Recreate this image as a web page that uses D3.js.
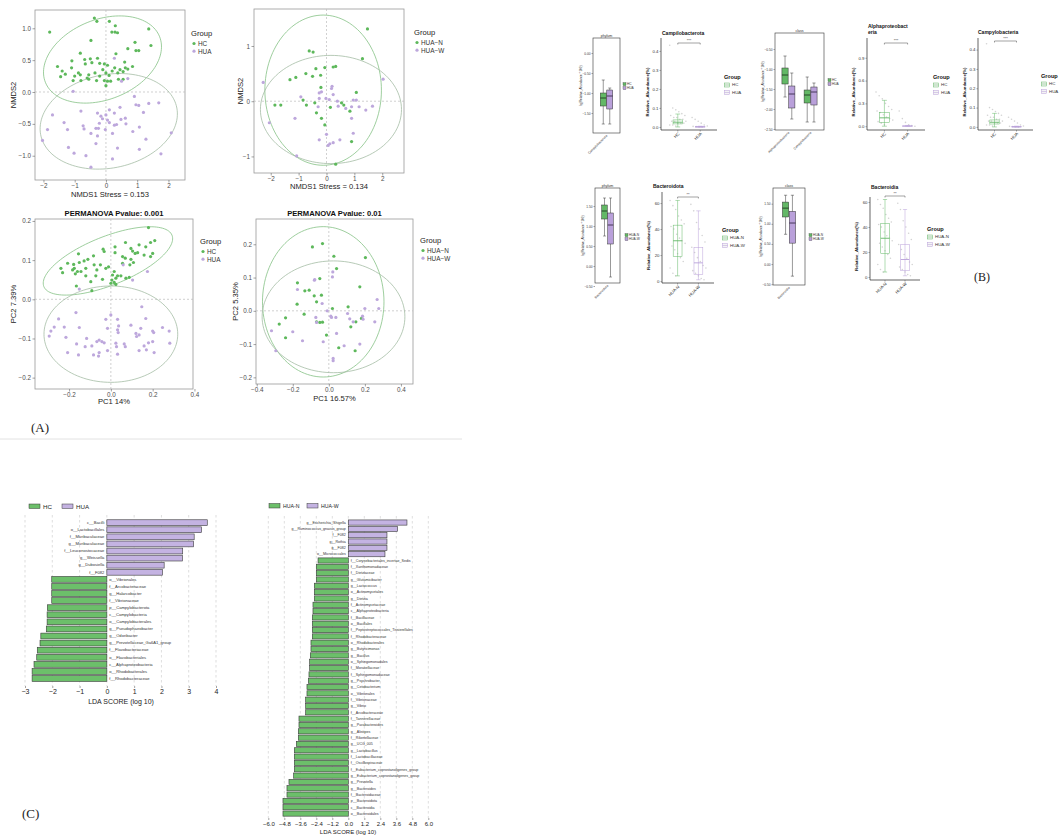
<!DOCTYPE html>
<html lang="en">
<head>
<meta charset="UTF-8">
<title>Gut microbiota: ordination, taxa and LEfSe</title>
<style>
  body { margin: 0; background: #fff; }
  svg text { font-family: "Liberation Sans", Arial, sans-serif; }
  svg text.serif { font-family: "Liberation Serif", "Times New Roman", serif; }
</style>
</head>
<body>
<svg id="fig" width="1059" height="835"></svg>
<script src="https://cdnjs.cloudflare.com/ajax/libs/d3/7.8.5/d3.min.js"></script>
<script>
// ---------- panel A : ordination scores ----------
const nmdsHC = [[-1.80,0.94],[-0.37,1.16],[-0.29,1.11],[0.11,1.11],[0.30,1.04],[0.19,0.94],[0.29,0.94],[0.37,0.93],[1.37,0.99],[-0.48,0.81],[1.44,0.73],[0.93,0.78],[0.96,0.65],[1.05,0.65],[0.70,0.68],[-0.82,0.61],[0.32,0.60],[-1.09,0.49],[-0.68,0.51],[-0.50,0.52],[-0.27,0.53],[-0.66,0.44],[-0.45,0.46],[-0.05,0.44],[0.05,0.42],[-0.20,0.45],[0.60,0.47],[0.85,0.40],[-1.55,0.40],[-1.40,0.33],[-1.30,0.28],[-1.10,0.38],[-1.00,0.25],[-0.88,0.30],[-0.82,0.27],[-0.60,0.22],[-0.55,0.27],[-0.35,0.30],[-0.20,0.25],[-0.10,0.35],[0.00,0.30],[0.20,0.33],[0.28,0.38],[0.38,0.30],[0.45,0.35],[0.55,0.32],[0.62,0.38],[0.70,0.36],[-1.05,0.18],[-0.80,0.18],[-0.55,0.20],[-0.30,0.18],[-0.05,0.18],[0.05,0.17],[0.15,0.17],[0.40,0.20],[0.00,0.10],[0.55,0.20],[-1.45,0.24],[0.10,0.26]];
const nmdsHUA = [[-1.05,0.01],[0.50,0.17],[0.70,0.21],[0.27,0.53],[0.91,-0.07],[0.96,-0.20],[1.05,-0.21],[1.37,-0.18],[1.69,-0.17],[1.20,-0.32],[0.45,-0.24],[0.27,-0.33],[-1.71,-0.36],[-1.34,-0.48],[-1.87,-0.59],[-2.03,-0.76],[-1.23,-0.59],[-0.80,-0.30],[-0.73,-0.53],[-0.70,-0.58],[-0.48,-0.65],[-0.32,-0.57],[-0.24,-0.57],[-0.27,-0.69],[-0.02,-0.59],[0.21,-0.65],[0.27,-0.52],[0.34,-0.51],[0.64,-0.50],[0.62,-0.41],[1.07,-0.55],[0.86,-0.62],[1.28,-0.74],[2.09,-0.64],[-1.20,-0.87],[-1.02,-0.96],[-0.64,-1.00],[-0.32,-0.81],[0.37,-0.88],[0.21,-1.05],[-0.48,-1.18],[1.07,-0.90],[1.76,-0.97],[-0.27,-0.33],[-0.16,-0.38],[-0.11,-0.42],[0.00,-0.36],[0.05,-0.44],[-0.21,-0.49],[0.11,-0.48],[0.48,-0.43],[0.11,-0.28]];
const nmdsN = [[1.47,1.31],[1.29,0.77],[-0.62,0.91],[-0.48,0.89],[0.24,0.62],[0.33,0.63],[-0.06,0.61],[-0.38,0.59],[-0.74,0.50],[-0.50,0.45],[-0.21,0.47],[-1.10,0.43],[-1.31,0.39],[-0.20,0.25],[1.07,0.16],[-0.84,0.02],[-1.85,-0.07],[-1.64,-0.07],[-0.72,-0.07],[-0.42,-0.03],[0.14,-0.11],[0.54,-0.03],[0.62,-0.07],[0.84,-0.18],[-0.36,-0.21],[-0.18,-0.31],[-0.06,-0.43],[0.90,-0.73],[0.33,-1.14]];
const nmdsW = [[-2.27,0.34],[-2.05,-0.39],[-1.07,-0.99],[-1.13,-0.31],[-0.92,0.08],[-0.26,0.15],[-0.18,0.17],[-0.26,0.05],[0.20,0.27],[0.18,0.23],[0.24,0.12],[-0.02,0.05],[0.10,0.03],[0.39,0.00],[0.42,-0.09],[0.69,-0.13],[0.90,-0.10],[0.96,0.02],[1.07,0.02],[1.17,-0.10],[1.41,-0.16],[1.65,-0.09],[2.03,0.40],[0.90,-0.31],[-0.30,-0.10],[0.00,-0.60],[0.96,-0.58],[-0.26,-0.70],[0.12,-0.77],[0.06,-0.80],[0.24,-0.75],[0.48,-0.70]];
const pcoaHC = [[0.18,0.183],[0.21,0.15],[0.19,0.145],[0.07,0.145],[0.135,0.139],[0.02,0.134],[0.167,0.134],[0.096,0.130],[0.104,0.123],[-0.155,0.116],[-0.037,0.128],[-0.032,0.122],[0.116,0.117],[0.128,0.119],[0.159,0.113],[0.19,0.109],[0.20,0.117],[0.02,0.119],[0.056,0.109],[-0.083,0.111],[-0.11,0.102],[-0.128,0.098],[-0.151,0.094],[-0.178,0.089],[-0.239,0.079],[-0.231,0.068],[-0.183,0.075],[-0.175,0.079],[-0.207,0.092],[-0.16,0.071],[-0.143,0.071],[-0.12,0.079],[-0.08,0.088],[-0.067,0.075],[-0.05,0.088],[-0.024,0.079],[-0.011,0.083],[0.016,0.071],[0.008,0.062],[0.024,0.054],[0.056,0.092],[0.069,0.105],[0.096,0.102],[0.091,0.088],[0.108,0.094],[0.048,0.06],[0.072,0.054],[0.088,0.056],[0.005,0.049],[0.016,0.043],[0.0,0.041],[0.024,0.038],[-0.04,0.051],[-0.096,0.045],[-0.165,0.034],[-0.091,0.022],[-0.12,0.06],[-0.17,0.065],[-0.072,0.06],[0.032,0.06]];
const pcoaHUA = [[0.059,0.088],[0.175,0.071],[0.104,0.049],[-0.151,0.026],[0.148,-0.019],[-0.25,-0.05],[-0.223,-0.071],[-0.167,-0.034],[-0.287,-0.081],[-0.271,-0.071],[-0.215,-0.097],[-0.151,-0.072],[-0.116,-0.10],[-0.091,-0.119],[-0.067,-0.108],[-0.056,-0.104],[-0.043,-0.108],[-0.032,-0.111],[-0.024,-0.051],[-0.016,-0.074],[0.032,-0.051],[0.037,-0.068],[0.032,-0.078],[0.035,-0.085],[0.024,-0.112],[0.027,-0.121],[0.0,-0.04],[0.096,-0.066],[0.12,-0.087],[0.123,-0.095],[0.135,-0.091],[0.167,-0.049],[0.143,-0.074],[0.20,-0.081],[0.205,-0.085],[0.247,-0.072],[0.279,-0.081],[0.282,-0.112],[0.20,-0.108],[0.159,-0.119],[0.18,-0.111],[0.135,-0.131],[0.17,-0.129],[0.207,-0.136],[-0.164,-0.114],[-0.207,-0.136],[-0.155,-0.142],[-0.083,-0.142],[-0.059,-0.145],[-0.056,-0.136],[-0.016,-0.131],[0.032,-0.14],[0.064,-0.114],[0.069,-0.121],[-0.123,-0.121],[-0.295,-0.094]];
const pcoaN = [[-0.091,0.192],[-0.035,0.202],[0.028,0.164],[0.203,0.160],[0.043,0.127],[-0.174,0.084],[-0.05,0.097],[-0.109,0.062],[-0.133,0.06],[-0.081,0.045],[-0.041,0.047],[-0.068,0.027],[-0.176,0.02],[0.172,0.072],[0.02,0.007],[0.107,0.012],[-0.24,-0.021],[-0.137,-0.01],[-0.275,-0.04],[-0.068,-0.033],[-0.05,-0.035],[-0.035,-0.034],[0.122,-0.048],[0.15,-0.033],[0.181,-0.023],[-0.013,-0.073],[-0.24,-0.081],[0.055,-0.111],[0.146,-0.12]];
const pcoaW = [[0.022,0.117],[0.02,0.102],[-0.078,0.094],[-0.08,0.092],[-0.174,0.064],[-0.037,0.022],[-0.009,0.0],[0.011,-0.016],[0.015,-0.02],[0.039,-0.02],[-0.072,-0.02],[-0.068,-0.035],[0.104,-0.008],[0.116,-0.024],[0.135,-0.033],[0.187,-0.016],[0.19,-0.025],[0.20,0.007],[0.255,-0.033],[0.268,0.034],[0.277,0.007],[0.043,-0.068],[-0.031,-0.093],[-0.146,-0.09],[-0.20,-0.063],[-0.318,-0.06],[-0.294,-0.12],[0.085,-0.105],[0.172,-0.10],[0.024,-0.143],[0.024,-0.15]];
// confidence ellipses: centre x, centre y, semi-axis a, semi-axis b, angle
const ellNmds1 = [[-0.11,0.51,1.9,0.65,0.12],[0.09,-0.46,2.2,0.74,0.06]];
const ellNmds2 = [[-0.12,0.20,2.09,1.36,0],[0.16,-0.15,2.53,0.98,0]];
const ellPcoa1 = [[-0.014,0.098,0.315,0.065,0.19],[0.0,-0.089,0.32,0.123,0]];
const ellPcoa2 = [[-0.031,0.027,0.337,0.226,0],[0.026,-0.018,0.396,0.168,0]];

// ---------- panel B : box statistics [min, q1, median, q3, max] ----------
const phylumHC = [[-1.775,-1.325,-1.125,-1.0,-0.675]];
const phylumHUA = [[-1.775,-1.4,-1.075,-0.925,-0.875]];
const classHC = [[-1.7,-1.375,-1.15,-0.975,-0.675],[-2.325,-1.85,-1.65,-1.525,-1.2]];
const classHUA = [[-2.25,-1.975,-1.625,-1.425,-1.1],[-2.325,-1.9,-1.575,-1.45,-1.35]];
const phylumN = [[0.75,1.175,1.375,1.525,1.7]];
const phylumW = [[-0.275,0.55,1.025,1.325,1.7]];
const classN = [[0.74,1.17,1.39,1.54,1.71]];
const classW = [[-0.3,0.52,1.02,1.31,1.71]];
const campyloHC = [0,0.016,0.025,0.037,0.068];
const campyloHUA = [0,0,0.001,0.002,0.004];
const alphaHC = [0,0.05,0.11,0.18,0.34];
const alphaHUA = [0,0,0.002,0.004,0.01];
const campyClHC = [0,0.015,0.024,0.036,0.07];
const campyClHUA = [0,0,0.001,0.002,0.004];
const bactN = [4,19,31,43,62];
const bactW = [1,5,14,26,54];
const campyloJitHC = [0.43,0.10,0.09,0.08,0.07,0.06,0.06,0.05,0.05,0.04,0.04,0.03,0.03,0.03,0.02,0.02,0.02,0.01,0.01,0.005];
const campyloJitHUA = [0.05,0.04,0.03,0.02,0.01,0.005,0.003,0.002,0.001,0];
const alphaJitHC = [0.45,0.40,0.36,0.30,0.26,0.22,0.20,0.18,0.15,0.12,0.10,0.08,0.06,0.04,0.02];
const alphaJitHUA = [0.20,0.10,0.05,0.02,0.01,0];
const bactJitN = [62,58,55,50,47,44,42,40,36,33,31,29,27,24,21,18,15,10,6,4];
const bactJitW = [59,54,45,40,35,30,26,22,18,15,12,10,8,6,4,2,1];

// ---------- panel C : LDA scores ----------
const ldaLeftNames = ["c__Bacilli","o__Lactobacillales","f__Muribaculaceae","g__Muribaculaceae","f__Leuconostocaceae","g__Weissella","g__Dubosiella","f__F082","o__Vibrionales","f__Arcobacteraceae","g__Halarcobacter","f__Vibrionaceae","p__Campylobacterota","c__Campylobacteria","o__Campylobacterales","g__Pseudophaeobacter","g__Odoribacter","g__Prevotellaceae_Ga6A1_group","f__Flavobacteriaceae","o__Flavobacteriales","c__Alphaproteobacteria","o__Rhodobacterales","f__Rhodobacteraceae"];
const ldaLeftScores = [3.68,3.47,3.2,3.18,2.78,2.77,2.1,2.04,-2.02,-2.02,-2.02,-2.02,-2.18,-2.19,-2.19,-2.22,-2.42,-2.45,-2.55,-2.57,-2.67,-2.74,-2.74];
const ldaRightNames = ["g__Escherichia_Shigella","g__Ruminococcus_gnavus_group","f__F082","g__Rothia","g__F082","o__Micrococcales","f__Corynebacteriales_incertae_Sedis","f__Xanthomonadaceae","f__Dietziaceae","g__Glutamicibacter","g__Lactococcus","o__Actinomycetales","g__Dietzia","f__Actinomycetaceae","c__Alphaproteobacteria","f__Bacillaceae","o__Bacillales","f__Peptostreptococcales_Tissierellales","f__Rhodobacteraceae","o__Rhodobacterales","g__Butyricimonas","g__Bacillus","o__Sphingomonadales","f__Moraxellaceae","f__Sphingomonadaceae","g__Psychrobacter","g__Cetobacterium","o__Vibrionales","f__Vibrionaceae","g__Vibrio","f__Arcobacteraceae","f__Tannerellaceae","g__Parabacteroides","g__Alistipes","f__Rikenellaceae","g__UCG_005","g__Lactobacillus","f__Lactobacillaceae","f__Oscillospiraceae","f__Eubacterium_coprostanoligenes_group","g__Eubacterium_coprostanoligenes_group","g__Prevotella","g__Bacteroides","f__Bacteroidaceae","p__Bacteroidota","c__Bacteroidia","o__Bacteroidales"];
const ldaRightScores = [4.4,3.7,2.9,2.9,2.9,2.75,-2.27,-2.4,-2.4,-2.4,-2.55,-2.55,-2.55,-2.65,-2.65,-2.7,-2.7,-2.7,-2.7,-2.8,-2.8,-2.85,-2.9,-2.9,-2.95,-3.0,-3.1,-3.1,-3.2,-3.2,-3.2,-3.7,-3.7,-3.75,-3.75,-3.9,-4.05,-4.05,-4.05,-4.05,-4.1,-4.45,-4.6,-4.6,-4.9,-4.9,-4.9];

const GREEN = "#5db85b", PURPLE = "#bda7dc";
const BOX_GREEN = "#63b866", BOX_PURPLE = "#b9a0da";
const svg = d3.select("#fig");

function styleAxis(a, size, color) {
  a.select(".domain").remove();
  a.selectAll("line").attr("stroke", "#666").attr("stroke-width", 0.6);
  a.selectAll("text").attr("font-size", size).attr("fill", color || "#4d4d4d");
}

// ordination scatter with ellipses
function scatterPanel(p) {
  const [bx0, by0, bx1, by1] = p.box;
  const x = d3.scaleLinear().domain(p.xDomain).range([bx0, bx1]);
  const y = d3.scaleLinear().domain(p.yDomain).range([by1, by0]);
  const g = svg.append("g");
  g.append("rect").attr("x", bx0).attr("y", by0).attr("width", bx1 - bx0).attr("height", by1 - by0)
    .attr("fill", "#fff").attr("stroke", "#9a9a9a").attr("stroke-width", 0.8);
  g.append("line").attr("x1", x(0)).attr("x2", x(0)).attr("y1", by0).attr("y2", by1)
    .attr("stroke", "#bbb").attr("stroke-width", 0.7).attr("stroke-dasharray", "2,2");
  g.append("line").attr("x1", bx0).attr("x2", bx1).attr("y1", y(0)).attr("y2", y(0))
    .attr("stroke", "#bbb").attr("stroke-width", 0.7).attr("stroke-dasharray", "2,2");
  const ellColors = ["#85c185", "#a5bca5"];
  p.ellipses.forEach((e, k) => {
    const [cx, cy, a, b, phi] = e;
    const pts = d3.range(0, 121).map(i => {
      const t = i / 120 * 2 * Math.PI;
      return [x(cx + a * Math.cos(t) * Math.cos(phi) - b * Math.sin(t) * Math.sin(phi)),
              y(cy + a * Math.cos(t) * Math.sin(phi) + b * Math.sin(t) * Math.cos(phi))];
    });
    g.append("path").attr("d", d3.line()(pts)).attr("fill", "none")
      .attr("stroke", ellColors[k]).attr("stroke-width", 0.8);
  });
  [[p.g1, GREEN], [p.g2, PURPLE]].forEach(([pts, col]) => {
    g.selectAll(null).data(pts).join("circle")
      .attr("cx", d => x(d[0])).attr("cy", d => y(d[1])).attr("r", 1.6).attr("fill", col);
  });
  const ax = g.append("g").attr("transform", `translate(0,${by1})`)
    .call(d3.axisBottom(x).tickValues(p.xTicks).tickFormat(p.xFmt).tickSize(2.5).tickPadding(1.5));
  const ay = g.append("g").attr("transform", `translate(${bx0},0)`)
    .call(d3.axisLeft(y).tickValues(p.yTicks).tickFormat(p.yFmt).tickSize(2.5).tickPadding(1.5));
  styleAxis(ax, 6.3); styleAxis(ay, 6.3);
  g.append("text").attr("x", (bx0 + bx1) / 2).attr("y", p.xLabelY).attr("text-anchor", "middle")
    .attr("font-size", 7.6).attr("fill", "#222").text(p.xLabel);
  g.append("text").attr("transform", `translate(${p.yLabelX},${(by0 + by1) / 2}) rotate(-90)`)
    .attr("text-anchor", "middle").attr("font-size", 7.6).attr("fill", "#222").text(p.yLabel);
  if (p.title) {
    g.append("text").attr("x", (bx0 + bx1) / 2).attr("y", p.titleY).attr("text-anchor", "middle")
      .attr("font-size", 7.6).attr("font-weight", "bold").attr("fill", "#111").text(p.title);
  }
  const [lx, ly] = p.legend;
  g.append("text").attr("x", lx).attr("y", ly).attr("font-size", 7.6).attr("fill", "#222").text("Group");
  p.groups.forEach((name, i) => {
    g.append("circle").attr("cx", lx + 3).attr("cy", ly + 7.5 + i * 7.7).attr("r", 1.6)
      .attr("fill", i === 0 ? GREEN : PURPLE);
    g.append("text").attr("x", lx + 7).attr("y", ly + 10 + i * 7.7).attr("font-size", 6.4)
      .attr("fill", "#333").text(name);
  });
}

scatterPanel({ box: [35, 10, 185, 180], xDomain: [-2.27, 2.53], yDomain: [-1.381, 1.287],
  xTicks: [-2, -1, 0, 1, 2], yTicks: [-1, -0.5, 0, 0.5, 1], xFmt: d3.format("d"), yFmt: d3.format(".1f"),
  g1: nmdsHC, g2: nmdsHUA, ellipses: ellNmds1, xLabel: "NMDS1  Stress = 0.153", xLabelY: 197,
  yLabel: "NMDS2", yLabelX: 16, legend: [191, 36], groups: ["HC", "HUA"] });
scatterPanel({ box: [254, 9, 404, 173], xDomain: [-2.6, 2.78], yDomain: [-1.30, 1.67],
  xTicks: [-2, -1, 0, 1, 2], yTicks: [-1, 0, 1], xFmt: d3.format("d"), yFmt: d3.format("d"),
  g1: nmdsN, g2: nmdsW, ellipses: ellNmds2, xLabel: "NMDS1  Stress = 0.134", xLabelY: 189,
  yLabel: "NMDS2", yLabelX: 243, legend: [414, 35], groups: ["HUA\u2212N", "HUA\u2212W"] });
scatterPanel({ box: [35, 219, 193, 389], xDomain: [-0.363, 0.393], yDomain: [-0.229, 0.205],
  xTicks: [-0.2, 0, 0.2, 0.4], yTicks: [-0.2, -0.1, 0, 0.1, 0.2], xFmt: d3.format(".1f"), yFmt: d3.format(".1f"),
  g1: pcoaHC, g2: pcoaHUA, ellipses: ellPcoa1, xLabel: "PC1 14%", xLabelY: 404,
  yLabel: "PC2 7.39%", yLabelX: 16, legend: [200, 244], groups: ["HC", "HUA"],
  title: "PERMANOVA Pvalue: 0.001", titleY: 216 });
scatterPanel({ box: [256, 219, 413, 384], xDomain: [-0.404, 0.467], yDomain: [-0.22, 0.276],
  xTicks: [-0.4, -0.2, 0, 0.2, 0.4], yTicks: [-0.2, -0.1, 0, 0.1, 0.2], xFmt: d3.format(".1f"), yFmt: d3.format(".1f"),
  g1: pcoaN, g2: pcoaW, ellipses: ellPcoa2, xLabel: "PC1 16.57%", xLabelY: 401,
  yLabel: "PC2 5.35%", yLabelX: 238, legend: [420, 243], groups: ["HUA\u2212N", "HUA\u2212W"],
  title: "PERMANOVA Pvalue: 0.01", titleY: 216 });

svg.append("text").attr("class", "serif").attr("x", 31).attr("y", 432).attr("font-size", 13).attr("fill", "#222").text("(A)");
svg.append("line").attr("x1", 0).attr("x2", 462).attr("y1", 439).attr("y2", 439).attr("stroke", "#e2e2e2").attr("stroke-width", 1);

// ---------- panel B helpers ----------
function drawBox(g, xc, w, s, y, fill, stroke, medColor) {
  const [mn, q1, md, q3, mx] = s;
  g.append("line").attr("x1", xc).attr("x2", xc).attr("y1", y(mx)).attr("y2", y(mn)).attr("stroke", stroke).attr("stroke-width", 0.5);
  [mn, mx].forEach(v => g.append("line").attr("x1", xc - w * 0.25).attr("x2", xc + w * 0.25)
    .attr("y1", y(v)).attr("y2", y(v)).attr("stroke", stroke).attr("stroke-width", 0.5));
  g.append("rect").attr("x", xc - w / 2).attr("y", y(q3)).attr("width", w).attr("height", Math.max(0.6, y(q1) - y(q3)))
    .attr("fill", fill).attr("stroke", stroke).attr("stroke-width", 0.5);
  g.append("line").attr("x1", xc - w / 2).attr("x2", xc + w / 2).attr("y1", y(md)).attr("y2", y(md))
    .attr("stroke", medColor).attr("stroke-width", 0.9);
}

function rankPanel(p) {
  const [bx0, by0, bx1, by1] = p.box;
  const g = svg.append("g");
  const y = d3.scaleLinear().domain(p.yDomain).range([by1, by0]);
  const x = d3.scaleBand().domain(p.cats).range([bx0, bx1]).paddingInner(p.pad[0]).paddingOuter(p.pad[1]);
  g.append("rect").attr("x", bx0).attr("y", by0).attr("width", bx1 - bx0).attr("height", by1 - by0)
    .attr("fill", "#fff").attr("stroke", "#333").attr("stroke-width", 0.6);
  g.append("text").attr("x", (bx0 + bx1) / 2).attr("y", by0 - 1.5).attr("text-anchor", "middle")
    .attr("font-size", 3.6).attr("fill", "#333").text(p.strip);
  const w = x.bandwidth() / 2;
  p.cats.forEach((c, i) => {
    drawBox(g, x(c) + w / 2, w * 0.92, p.green[i], y, BOX_GREEN, "#333", "#1d3a1d");
    drawBox(g, x(c) + w * 1.5, w * 0.92, p.purple[i], y, BOX_PURPLE, "#333", "#3a2b4d");
    g.append("text").attr("transform", `translate(${x(c) + w + 1},${by1 + 3}) rotate(-45)`)
      .attr("text-anchor", "end").attr("font-size", 3.2).attr("fill", "#333").text(c);
  });
  const ay = g.append("g").attr("transform", `translate(${bx0},0)`)
    .call(d3.axisLeft(y).tickValues(p.yTicks).tickFormat(d3.format(".2f")).tickSize(1.5).tickPadding(1));
  styleAxis(ay, 3.2, "#333");
  g.append("text").attr("transform", `translate(${bx0 - 11},${(by0 + by1) / 2}) rotate(-90)`)
    .attr("text-anchor", "middle").attr("font-size", 3).attr("fill", "#333").text("lg(Relative_Abundance * 100)");
  const [lx, ly] = p.legend;
  p.groups.forEach((name, i) => {
    g.append("rect").attr("x", lx).attr("y", ly + i * 4 - 2.4).attr("width", 3).attr("height", 3)
      .attr("fill", i === 0 ? BOX_GREEN : BOX_PURPLE).attr("stroke", "#333").attr("stroke-width", 0.3);
    g.append("text").attr("x", lx + 4).attr("y", ly + i * 4 + 0.4).attr("font-size", 3.2).attr("fill", "#333").text(name);
  });
}

function abundPanel(p) {
  const g = svg.append("g");
  const y = d3.scaleLinear().domain(p.yDomain).range([p.bottom, p.top]);
  const x = d3.scaleBand().domain(p.cats).range([p.left, p.right]).padding(0.5);
  const bw = x.bandwidth() * 0.85;
  const cols = [BOX_GREEN, BOX_PURPLE];
  [p.jit1, p.jit2].forEach((vals, k) => {
    const xc = x(p.cats[k]) + x.bandwidth() / 2;
    g.selectAll(null).data(vals).join("circle")
      .attr("cx", (d, i) => xc + (((i * 37) % 17) / 16 - 0.5) * bw * 1.7)
      .attr("cy", d => y(d)).attr("r", 0.8).attr("fill", "#c8c8c8").attr("opacity", 0.8);
  });
  [p.box1, p.box2].forEach((s, k) => {
    drawBox(g, x(p.cats[k]) + x.bandwidth() / 2, bw, s, y, "none", cols[k], cols[k]);
  });
  g.append("line").attr("x1", p.left).attr("x2", p.left).attr("y1", p.top).attr("y2", p.bottom).attr("stroke", "#222").attr("stroke-width", 0.7);
  g.append("line").attr("x1", p.left).attr("x2", p.right).attr("y1", p.bottom).attr("y2", p.bottom).attr("stroke", "#222").attr("stroke-width", 0.7);
  const ay = g.append("g").attr("transform", `translate(${p.left},0)`)
    .call(d3.axisLeft(y).tickValues(p.yTicks).tickFormat(p.yFmt).tickSize(1.5).tickPadding(1));
  styleAxis(ay, 4.3, "#333");
  const ax = g.append("g").attr("transform", `translate(0,${p.bottom})`)
    .call(d3.axisBottom(x).tickSize(1.5).tickFormat(""));
  styleAxis(ax, 4);
  p.cats.forEach(c => {
    g.append("text").attr("transform", `translate(${x(c) + x.bandwidth() / 2 + 2},${p.bottom + 4}) rotate(-45)`)
      .attr("text-anchor", "end").attr("font-size", 4.2).attr("fill", "#333").text(c);
  });
  const b1 = x(p.cats[0]) + x.bandwidth() / 2, b2 = x(p.cats[1]) + x.bandwidth() / 2;
  g.append("path").attr("d", `M${b1},${p.bracketY + 1.5}V${p.bracketY}H${b2}V${p.bracketY + 1.5}`)
    .attr("fill", "none").attr("stroke", "#444").attr("stroke-width", 0.5);
  g.append("text").attr("x", (b1 + b2) / 2).attr("y", p.bracketY - 0.8).attr("text-anchor", "middle")
    .attr("font-size", 4).attr("fill", "#444").text(p.stars);
  p.title.forEach((t, i) => g.append("text").attr("x", p.titleX).attr("y", p.titleY + i * 5.5)
    .attr("font-size", 5).attr("font-weight", "bold").attr("fill", "#111").text(t));
  g.append("text").attr("transform", `translate(${p.left - 12},${(p.top + p.bottom) / 2 + 8}) rotate(-90)`)
    .attr("text-anchor", "middle").attr("font-size", 4.3).attr("font-weight", "bold").attr("fill", "#111").text("Relative_Abundance(%)");
  const [lx, ly] = p.legend;
  g.append("text").attr("x", lx).attr("y", ly).attr("font-size", 5.6).attr("font-weight", "bold").attr("fill", "#111").text("Group");
  p.cats.forEach((c, i) => {
    const ky = ly + 4 + i * 7.5;
    g.append("rect").attr("x", lx + 0.5).attr("y", ky).attr("width", 5).attr("height", 4)
      .attr("fill", "#f4f4f4").attr("stroke", cols[i]).attr("stroke-width", 0.5);
    g.append("line").attr("x1", lx + 0.5).attr("x2", lx + 5.5).attr("y1", ky + 2).attr("y2", ky + 2).attr("stroke", cols[i]).attr("stroke-width", 0.5);
    g.append("text").attr("x", lx + 8).attr("y", ky + 3.4).attr("font-size", 4.4).attr("fill", "#333").text(c);
  });
}

rankPanel({ box: [593, 38, 620, 133], strip: "phylum", yDomain: [-2.0, 0.375], yTicks: [0, -0.5, -1, -1.5],
  cats: ["Campylobacterota"], pad: [0.35, 0.35], green: phylumHC, purple: phylumHUA, legend: [623, 85], groups: ["HC", "HUA"] });
rankPanel({ box: [775, 33, 824, 130], strip: "class", yDomain: [-2.525, -0.1], yTicks: [-0.5, -1, -1.5, -2, -2.5],
  cats: ["Alphaproteobacteria", "Campylobacteria"], pad: [0.39, 0.3], green: classHC, purple: classHUA, legend: [828, 81], groups: ["HC", "HUA"] });
rankPanel({ box: [595, 188, 620, 283], strip: "phylum", yDomain: [-0.425, 1.95], yTicks: [1.5, 1, 0.5, 0, -0.5],
  cats: ["Bacteroidota"], pad: [0.35, 0.35], green: phylumN, purple: phylumW, legend: [625, 236], groups: ["HUA-N", "HUA-W"] });
rankPanel({ box: [773, 188, 805, 285], strip: "class", yDomain: [-0.52, 1.89], yTicks: [1.5, 1, 0.5, 0, -0.5],
  cats: ["Bacteroidia"], pad: [0.4, 0.4], green: classN, purple: classW, legend: [809, 236], groups: ["HUA-N", "HUA-W"] });

abundPanel({ left: 661, right: 717, top: 38, bottom: 130, yDomain: [-0.016, 0.468], yTicks: [0, 0.1, 0.2, 0.3, 0.4], yFmt: d3.format(".1f"),
  cats: ["HC", "HUA"], box1: campyloHC, box2: campyloHUA, jit1: campyloJitHC, jit2: campyloJitHUA,
  bracketY: 43, stars: "***", title: ["Campilobacterota"], titleX: 662, titleY: 35, legend: [724, 79] });
abundPanel({ left: 867, right: 925, top: 38, bottom: 130, yDomain: [-0.05, 1.16], yTicks: [0, 0.3, 0.6, 0.9], yFmt: d3.format(".1f"),
  cats: ["HC", "HUA"], box1: alphaHC, box2: alphaHUA, jit1: alphaJitHC, jit2: alphaJitHUA,
  bracketY: 43, stars: "***", title: ["Alphaproteobact", "eria"], titleX: 868, titleY: 28, legend: [933, 79] });
abundPanel({ left: 978, right: 1033, top: 38, bottom: 130, yDomain: [-0.016, 0.46], yTicks: [0, 0.1, 0.2, 0.3, 0.4], yFmt: d3.format(".1f"),
  cats: ["HC", "HUA"], box1: campyClHC, box2: campyClHUA, jit1: campyloJitHC, jit2: campyloJitHUA,
  bracketY: 41, stars: "***", title: ["Campylobacteria"], titleX: 978, titleY: 34, legend: [1041, 78] });
abundPanel({ left: 662, right: 714, top: 192, bottom: 283, yDomain: [-1.5, 68.5], yTicks: [0, 20, 40, 60], yFmt: d3.format("d"),
  cats: ["HUA-N", "HUA-W"], box1: bactN, box2: bactW, jit1: bactJitN, jit2: bactJitW,
  bracketY: 197, stars: "**", title: ["Bacteroidota"], titleX: 653, titleY: 188, legend: [722, 232] });
abundPanel({ left: 870, right: 920, top: 197, bottom: 280, yDomain: [-2.4, 64], yTicks: [0, 20, 40, 60], yFmt: d3.format("d"),
  cats: ["HUA-N", "HUA-W"], box1: bactN, box2: bactW, jit1: bactJitN, jit2: bactJitW,
  bracketY: 196, stars: "**", title: ["Bacteroidia"], titleX: 871, titleY: 189, legend: [927, 231] });

svg.append("text").attr("class", "serif").attr("x", 974).attr("y", 281).attr("font-size", 12).attr("fill", "#222").text("(B)");

// ---------- panel C : LEfSe bars ----------
function ldaPanel(p) {
  const g = svg.append("g");
  const x = d3.scaleLinear().domain(p.xDomain).range(p.xRange);
  const y = d3.scaleBand().domain(p.names).range(p.yRange).padding(0.18);
  p.ticks.forEach(t => g.append("line").attr("x1", x(t)).attr("x2", x(t)).attr("y1", p.grid[0]).attr("y2", p.grid[1])
    .attr("stroke", "#c8c8c8").attr("stroke-width", 0.6).attr("stroke-dasharray", "2.5,2.5"));
  g.selectAll(null).data(p.names).join("rect")
    .attr("x", (d, i) => x(Math.min(0, p.scores[i])))
    .attr("y", d => y(d))
    .attr("width", (d, i) => Math.abs(x(p.scores[i]) - x(0)))
    .attr("height", y.bandwidth())
    .attr("fill", (d, i) => p.scores[i] < 0 ? "#6cbf6a" : "#c4b3e2")
    .attr("stroke", "#3a3a3a").attr("stroke-width", 0.6);
  g.selectAll(null).data(p.names).join("text")
    .attr("x", (d, i) => p.scores[i] < 0 ? x(0) + 2.5 : x(0) - 2.5)
    .attr("y", d => y(d) + y.bandwidth() / 2 + 1.3)
    .attr("text-anchor", (d, i) => p.scores[i] < 0 ? "start" : "end")
    .attr("font-size", p.labelSize).attr("fill", "#333").text(d => d);
  const ax = g.append("g").attr("transform", `translate(0,${p.grid[1]})`)
    .call(d3.axisBottom(x).tickValues(p.ticks).tickFormat(p.fmt).tickSize(2).tickPadding(1.5));
  styleAxis(ax, p.tickSize, "#222");
  g.append("text").attr("x", p.titlePos[0]).attr("y", p.titlePos[1]).attr("text-anchor", "middle")
    .attr("font-size", p.tickSize).attr("fill", "#222").text("LDA SCORE (log 10)");
  const [lx, ly] = p.legend;
  p.groups.forEach((name, i) => {
    const gx = lx + i * p.legendGap;
    g.append("rect").attr("x", gx).attr("y", ly - 4.5).attr("width", 11).attr("height", 4.5)
      .attr("fill", i === 0 ? "#6cbf6a" : "#c4b3e2").attr("stroke", "#3a3a3a").attr("stroke-width", 0.5);
    g.append("text").attr("x", gx + 14).attr("y", ly).attr("font-size", p.legendSize).attr("fill", "#222").text(name);
  });
}

ldaPanel({ names: ldaLeftNames, scores: ldaLeftScores, xDomain: [-3, 4], xRange: [25, 216], yRange: [518.5, 682.7],
  grid: [515, 686], ticks: [-3, -2, -1, 0, 1, 2, 3, 4], fmt: d3.format("d"), tickSize: 7, labelSize: 4.1,
  titlePos: [121, 704], legend: [29, 508.5], legendGap: 33, legendSize: 6.2, groups: ["HC", "HUA"] });
ldaPanel({ names: ldaRightNames, scores: ldaRightScores, xDomain: [-6, 6], xRange: [268.3, 428.3], yRange: [518.8, 817.3],
  grid: [516, 818], ticks: d3.range(-6, 6.01, 1.2), fmt: d3.format(".1f"), tickSize: 6, labelSize: 3.6,
  titlePos: [348, 834], legend: [269, 508], legendGap: 38, legendSize: 5.2, groups: ["HUA-N", "HUA-W"] });

svg.append("text").attr("class", "serif").attr("x", 22).attr("y", 818).attr("font-size", 13).attr("fill", "#222").text("(C)");
</script>
</body>
</html>
